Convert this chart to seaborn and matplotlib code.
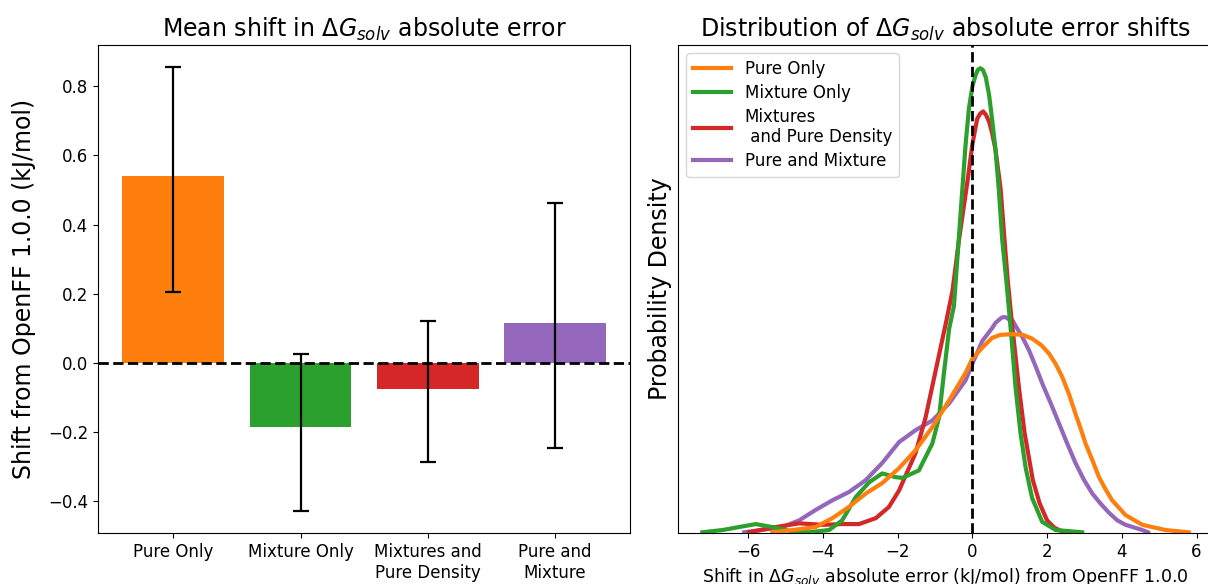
import numpy as np
import pandas as pd
import matplotlib
matplotlib.use("Agg")
import matplotlib.pyplot as plt
import seaborn as sns

# left panel: mean shift with lower / upper error bounds (kJ/mol)
categories = ["Pure Only", "Mixture Only", "Mixtures and\nPure Density", "Pure and\nMixture"]
mean_shift = [0.541, -0.185, -0.075, 0.114]
err_low = [0.205, -0.428, -0.287, -0.247]
err_high = [0.855, 0.027, 0.122, 0.462]
bar_colors = ["tab:orange", "tab:green", "tab:red", "tab:purple"]

# right panel: density curves
pure_x = [-5.35, -4.80, -4.19, -3.74, -3.30, -2.85, -2.41, -1.96, -1.52, -1.07, -0.62, -0.18, 0.00,
          0.27, 0.53, 0.75, 1.07, 1.35, 1.60, 1.85, 2.05, 2.23, 2.41, 2.59, 2.76, 2.90, 3.03, 3.21,
          3.39, 3.56, 3.74, 4.10, 4.55, 5.17, 5.79]
pure_y = [0.001, 0.004, 0.008, 0.020, 0.035, 0.053, 0.067, 0.087, 0.111, 0.142, 0.178, 0.215, 0.234,
          0.249, 0.262, 0.266, 0.267, 0.266, 0.261, 0.252, 0.241, 0.227, 0.209, 0.186, 0.160, 0.140,
          0.120, 0.098, 0.075, 0.059, 0.044, 0.024, 0.011, 0.004, 0.001]

mix_x = [-7.22, -6.68, -6.24, -5.79, -5.35, -4.90, -4.37, -3.83, -3.48, -3.12, -2.76, -2.41, -2.05,
         -1.87, -1.43, -1.07, -0.89, -0.76, -0.62, -0.49, -0.27, -0.18, -0.09, 0.00, 0.09, 0.15, 0.21,
         0.28, 0.36, 0.45, 0.53, 0.62, 0.71, 0.80, 0.92, 1.05, 1.16, 1.29, 1.43, 1.60, 1.87, 2.23, 2.94]
mix_y = [0.001, 0.004, 0.008, 0.012, 0.008, 0.003, 0.001, 0.004, 0.017, 0.048, 0.068, 0.080, 0.075,
         0.074, 0.084, 0.120, 0.155, 0.214, 0.274, 0.305, 0.459, 0.521, 0.570, 0.599, 0.615, 0.622,
         0.624, 0.622, 0.612, 0.588, 0.555, 0.515, 0.461, 0.394, 0.334, 0.261, 0.194, 0.134, 0.087,
         0.047, 0.015, 0.004, 0.001]

mixdens_x = [-5.97, -5.26, -4.63, -4.01, -3.48, -3.03, -2.58, -2.23, -1.96, -1.52, -1.25, -0.98, -0.71,
             -0.53, -0.36, -0.13, 0.00, 0.13, 0.21, 0.29, 0.37, 0.45, 0.53, 0.62, 0.76, 0.85, 0.95,
             1.05, 1.25, 1.40, 1.62, 1.80, 2.00, 2.20, 2.45]
mixdens_y = [0.001, 0.008, 0.013, 0.011, 0.012, 0.012, 0.020, 0.035, 0.057, 0.107, 0.155, 0.218, 0.281,
             0.325, 0.392, 0.472, 0.521, 0.556, 0.563, 0.566, 0.561, 0.552, 0.537, 0.515, 0.461, 0.401,
             0.338, 0.287, 0.194, 0.134, 0.071, 0.040, 0.017, 0.007, 0.001]

puremix_x = [-6.10, -5.08, -4.63, -4.19, -3.74, -3.30, -2.85, -2.41, -1.96, -1.52, -1.07, -0.62, -0.18,
             0.00, 0.27, 0.53, 0.62, 0.71, 0.78, 0.85, 0.92, 1.00, 1.08, 1.16, 1.34, 1.52, 1.70, 1.87,
             2.10, 2.32, 2.54, 2.76, 2.98, 3.21, 3.44, 3.66, 3.88, 4.10, 4.55, 4.70]
puremix_y = [0.001, 0.008, 0.017, 0.031, 0.044, 0.055, 0.071, 0.094, 0.122, 0.138, 0.151, 0.174, 0.205,
             0.227, 0.258, 0.275, 0.282, 0.286, 0.289, 0.290, 0.289, 0.286, 0.285, 0.278, 0.263, 0.245,
             0.223, 0.201, 0.174, 0.147, 0.120, 0.094, 0.072, 0.053, 0.039, 0.027, 0.017, 0.011, 0.004,
             0.001]

fig = plt.figure(figsize=(12.08, 5.84), dpi=100)
ax1 = fig.add_axes([0.0814, 0.0873, 0.4401, 0.8356])
ax2 = fig.add_axes([0.5613, 0.0873, 0.4429, 0.8356])

# --- bars
df_bar = pd.DataFrame({"set": categories, "shift": mean_shift})
sns.barplot(data=df_bar, x="set", y="shift", hue="set", palette=bar_colors, legend=False,
            saturation=1, width=0.8, linewidth=0, ax=ax1)
pos = np.arange(len(categories))
yerr = [np.array(mean_shift) - np.array(err_low), np.array(err_high) - np.array(mean_shift)]
ax1.errorbar(pos, mean_shift, yerr=yerr, fmt="none", ecolor="black", elinewidth=1.6,
             capsize=6, capthick=1.6)
ax1.axhline(0, color="black", ls="--", lw=2)
ax1.set_xlim(-0.59, 3.59)
ax1.set_xlabel("")
ax1.set_ylabel("Shift from OpenFF 1.0.0 (kJ/mol)", fontsize=17, labelpad=9)
ax1.set_title(r"Mean shift in $\Delta G_{solv}$ absolute error", fontsize=17)
ax1.tick_params(labelsize=12)

# --- density curves
curves = [
    ("Pure and Mixture", puremix_x, puremix_y, "tab:purple"),
    ("Mixtures\n and Pure Density", mixdens_x, mixdens_y, "tab:red"),
    ("Mixture Only", mix_x, mix_y, "tab:green"),
    ("Pure Only", pure_x, pure_y, "tab:orange"),
]
for lab, xs, ys, col in curves:
    sns.lineplot(x=xs, y=ys, color=col, linewidth=3, label=lab, estimator=None, sort=False, ax=ax2)
ax2.axvline(0, color="black", ls="--", lw=2, zorder=5)
ax2.set_ylim(bottom=0)
ax2.set_yticks([])
ax2.set_ylabel("Probability Density", fontsize=17)
ax2.set_xlabel(r"Shift in $\Delta G_{solv}$ absolute error (kJ/mol) from OpenFF 1.0.0", fontsize=12.5)
ax2.set_title(r"Distribution of $\Delta G_{solv}$ absolute error shifts", fontsize=17)
ax2.tick_params(labelsize=12)
handles, labels = ax2.get_legend_handles_labels()
ax2.legend(handles[::-1], labels[::-1], loc="upper left", fontsize=12, handlelength=2.3,
           labelspacing=0.35)

plt.savefig("out.png", dpi=100)
